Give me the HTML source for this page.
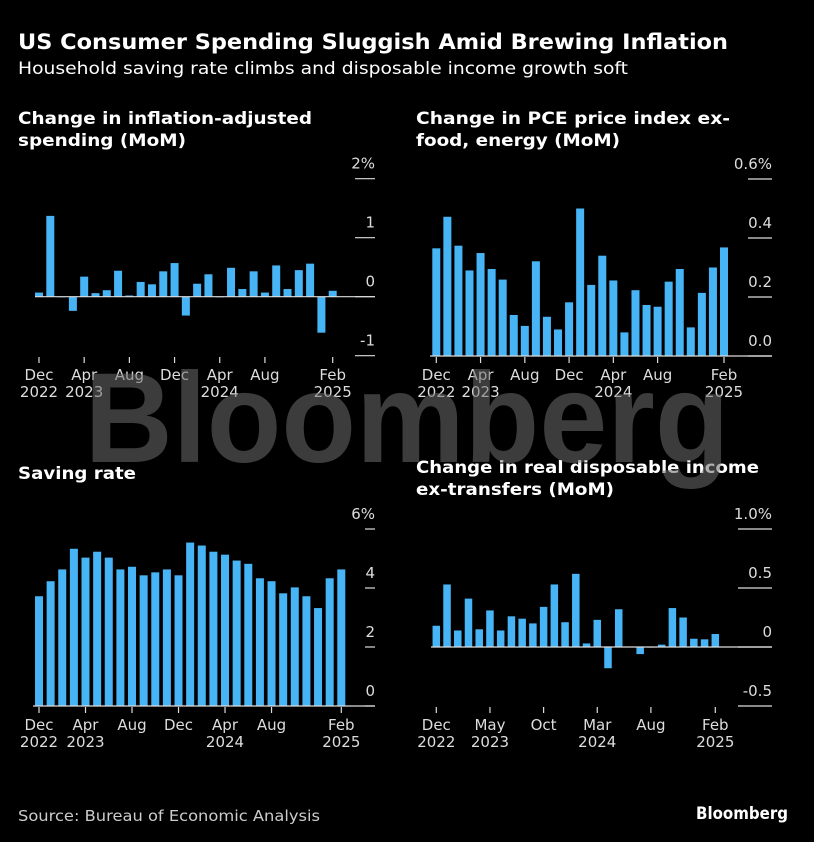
<!DOCTYPE html>
<html><head><meta charset="utf-8"><style>
html,body{margin:0;padding:0;background:#000;}
svg{display:block;font-family:"DejaVu Sans","Liberation Sans",sans-serif;}
</style></head><body>
<svg id="c" width="814" height="842" viewBox="0 0 814 842" xmlns="http://www.w3.org/2000/svg">
<rect width="814" height="842" fill="#000"/>
<text x="18" y="49" fill="#fff" font-size="21" font-weight="bold" textLength="710" lengthAdjust="spacingAndGlyphs">US Consumer Spending Sluggish Amid Brewing Inflation</text>
<text x="18" y="74" fill="#fff" font-size="17" textLength="610" lengthAdjust="spacingAndGlyphs">Household saving rate climbs and disposable income growth soft</text>
<g id="panels"></g>
<text x="407" y="462" text-anchor="middle" fill="rgba(110,110,110,0.55)" font-family="Liberation Sans, sans-serif" font-size="128" font-weight="bold" textLength="645" lengthAdjust="spacingAndGlyphs">Bloomberg</text>
<text x="18" y="821" fill="#ccc" font-size="15" textLength="302" lengthAdjust="spacingAndGlyphs">Source: Bureau of Economic Analysis</text>
<text x="788" y="819" text-anchor="end" fill="#fff" font-size="17" font-weight="bold" textLength="92" lengthAdjust="spacingAndGlyphs">Bloomberg</text>
</svg>
<script>
const spendingValues=[0.07,1.37,-0.01,-0.24,0.34,0.06,0.11,0.44,0.02,0.25,0.21,0.43,0.57,-0.32,0.22,0.38,-0.01,0.49,0.13,0.43,0.07,0.53,0.13,0.45,0.56,-0.61,0.10];
const pceValues=[0.365,0.472,0.374,0.29,0.349,0.295,0.259,0.139,0.102,0.321,0.133,0.09,0.182,0.50,0.241,0.34,0.256,0.08,0.223,0.173,0.167,0.252,0.295,0.097,0.214,0.30,0.368];
const savingValues=[3.72,4.23,4.63,5.33,5.03,5.23,5.03,4.63,4.72,4.43,4.53,4.63,4.43,5.54,5.44,5.23,5.13,4.93,4.82,4.33,4.23,3.82,4.02,3.72,3.32,4.33,4.63];
const incomeValues=[0.18,0.53,0.14,0.41,0.15,0.31,0.14,0.26,0.24,0.20,0.34,0.53,0.21,0.62,0.03,0.23,-0.18,0.32,0.003,-0.06,-0.005,0.02,0.33,0.25,0.07,0.065,0.11];
const spendingTicks=[2,1,0,-1];
const spendingTickLabels=["2%","1","0","-1"];
const pceTicks=[0.6,0.4,0.2,0];
const pceTickLabels=["0.6%","0.4","0.2","0.0"];
const savingTicks=[6,4,2,0];
const savingTickLabels=["6%","4","2","0"];
const incomeTicks=[1,0.5,0,-0.5];
const incomeTickLabels=["1.0%","0.5","0","-0.5"];
const xIdxA=[0,4,8,12,16,20,26];
const xLabA=[["Dec","2022"],["Apr","2023"],["Aug",""],["Dec",""],["Apr","2024"],["Aug",""],["Feb","2025"]];
const xIdxB=[0,5,10,15,20,26];
const xLabB=[["Dec","2022"],["May","2023"],["Oct",""],["Mar","2024"],["Aug",""],["Feb","2025"]];

const NS="http://www.w3.org/2000/svg";
const root=document.getElementById('panels');
function el(t,a,p){const e=document.createElementNS(NS,t);for(const k in a)e.setAttribute(k,a[k]);(p||root).appendChild(e);return e;}

const panels=[
 {name:'spending',title:["Change in inflation-adjusted","spending (MoM)"],tw:[294,168],ty:124,vals:spendingValues,ticks:spendingTicks,tl:spendingTickLabels,
  x0:39,x1:332.7,bw:8,zeroY:296.7,ppu:59,base:0,axL:35,axR:375,gL:355,xi:xIdxA,xl:xLabA},
 {name:'pce',title:["Change in PCE price index ex-","food, energy (MoM)"],tw:[314,204],ty:124,vals:pceValues,ticks:pceTicks,tl:pceTickLabels,
  x0:436.3,x1:724,bw:8,zeroY:356,ppu:295,base:0,axL:430,axR:772,gL:748,xi:xIdxA,xl:xLabA},
 {name:'saving',title:["Saving rate"],tw:[118],ty:479,vals:savingValues,ticks:savingTicks,tl:savingTickLabels,
  x0:39,x1:341.3,bw:8,zeroY:706,ppu:29.5,base:0,axL:33,axR:375,gL:365,xi:xIdxA,xl:xLabA},
 {name:'income',title:["Change in real disposable income","ex-transfers (MoM)"],tw:[343,198],ty:473,vals:incomeValues,ticks:incomeTicks,tl:incomeTickLabels,
  x0:436.3,x1:715.3,bw:7.5,zeroY:647,ppu:118,base:0,axL:431,axR:772,gL:738,xi:xIdxB,xl:xLabB}
];
panels.forEach((p,pi)=>{
  const g=el('g',{});
  
  
  const isLeft=pi%2===0;
  const tx=isLeft?18:416;
  p.title.forEach((line,i)=>{
    const t=el('text',{x:tx,y:p.ty+i*22,fill:'#fff','font-size':'17','font-weight':'bold',textLength:p.tw[i],lengthAdjust:'spacingAndGlyphs'},g);
    
    
    t.textContent=line;
  });
  const n=p.vals.length;
  const step=(p.x1-p.x0)/(n-1);
  const xs=i=>p.x0+i*step;
  const ys=v=>p.zeroY-v*p.ppu;
  p.ticks.forEach((v,i)=>{
    const y=ys(v);
    const ln=el('line',{x1:p.gL,x2:p.axR,y1:y,y2:y,stroke:'#ddd','stroke-width':1.2},g);
    
    
    const t=el('text',{x:p.axR,y:y-10,fill:'#ddd','font-size':'15','text-anchor':'end'},g);
    
    
    t.textContent=p.tl[i];
  });
  p.vals.forEach((v,i)=>{
    const y0=ys(p.base),y1=ys(v);
    const r=el('rect',{x:xs(i)-p.bw/2,y:Math.min(y0,y1),width:p.bw,height:Math.max(Math.abs(y1-y0),0.6),fill:'#47b5f5'},g);
    
    
  });
  const b=el('line',{x1:p.axL,x2:p.axR,y1:ys(p.base),y2:ys(p.base),stroke:'#ddd','stroke-width':1.2},g);
  
  
  const axisY=pi<2?357:707;
  p.xi.forEach((idx,k)=>{
    const x=xs(idx);
    const tk=el('line',{x1:x,x2:x,y1:axisY,y2:axisY+6,stroke:'#ddd','stroke-width':1.2},g);
    
    
    p.xl[k].forEach((s,j)=>{
      if(!s)return;
      const t=el('text',{x:x,y:axisY+23+j*17,fill:'#ddd','font-size':'15','text-anchor':'middle'},g);
      
      
      t.textContent=s;
    });
  });
});
</script>
</body></html>
